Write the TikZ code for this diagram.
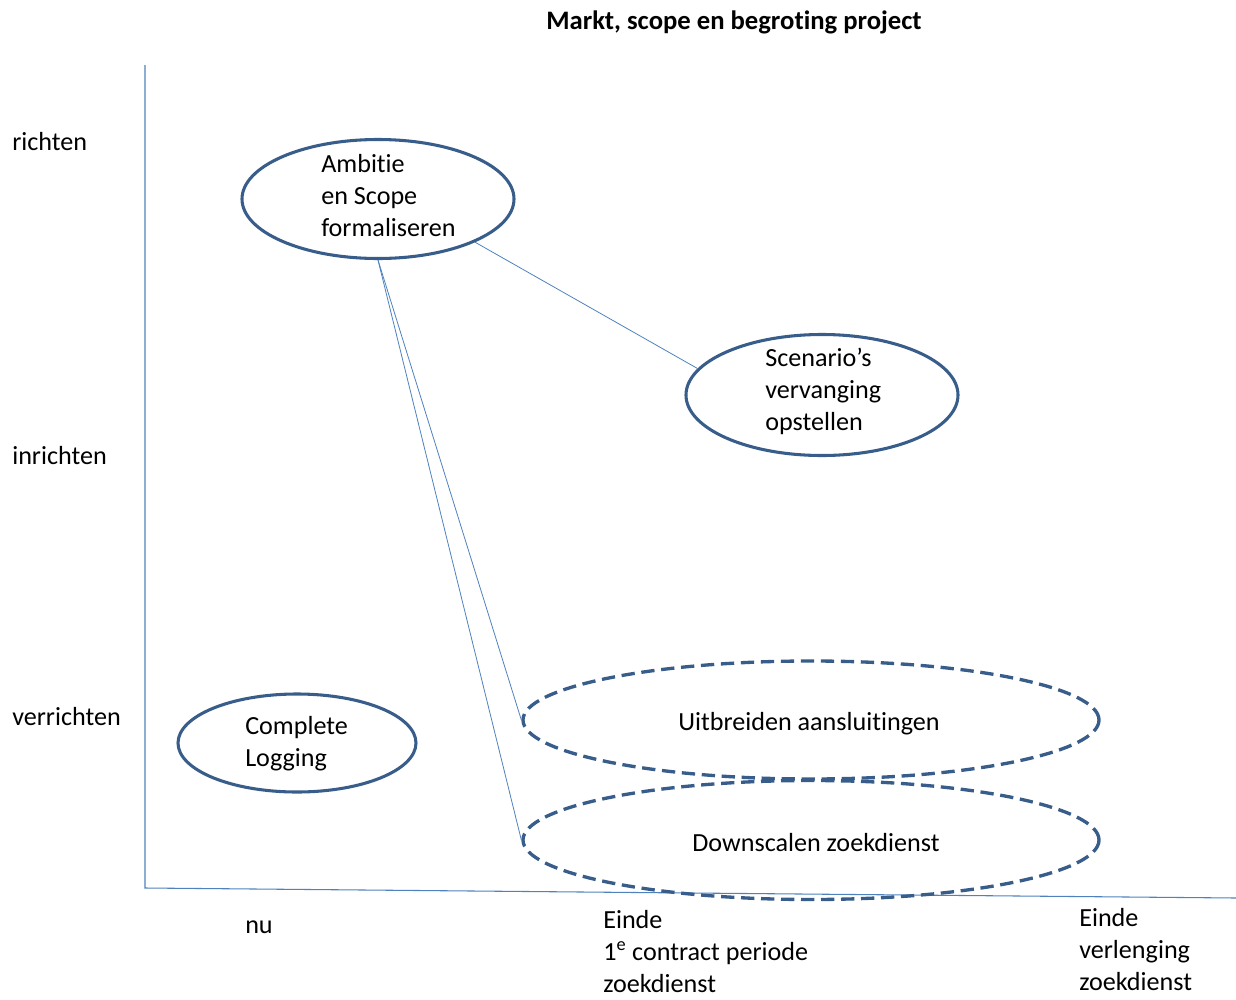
\documentclass[tikz,border=0pt]{standalone}
\usepackage{fontspec}
\setmainfont{Carlito}[Ligatures=NoCommon]
\usetikzlibrary{shapes.geometric}
\definecolor{axisblue}{RGB}{79,129,189}
\definecolor{rimblue}{RGB}{56,93,138}
\begin{document}
\begin{tikzpicture}[x=0.75pt,y=-0.75pt,
  lbl/.style={font=\fontsize{19.6}{24}\selectfont, inner sep=0pt, align=left},
  oval/.style={ellipse, draw=rimblue, line width=2.3pt, inner sep=0pt},
  dashedoval/.style={oval, line width=2.5pt, dash pattern=on 10pt off 5pt},
  axisline/.style={draw=axisblue, line width=0.8pt},
  link/.style={draw=axisblue, line width=0.6pt}]
\useasboundingbox (0,0) rectangle (1236,1000);

% title
\node[font=\fontsize{20}{24}\selectfont\bfseries, inner sep=0pt] (ttl) at (734,22) {Markt, scope en begroting project};

% axes
\coordinate (ytop) at (145,65);
\coordinate (orig) at (145,888);
\coordinate (xend) at (1236,898);
\draw[axisline] (ytop) -- (orig) -- (xend);

% level labels
\node[lbl, anchor=west] (lvl1) at (12,142) {richten};
\node[lbl, anchor=west] (lvl2) at (12,456) {inrichten};
\node[lbl, anchor=west] (lvl3) at (12,717) {verrichten};

% time labels
\node[lbl, anchor=west] (t0) at (245,927) {nu};
\node[lbl, anchor=west] (t1) at (603,952) {Einde\\1\textsuperscript{e} contract periode\\zoekdienst};
\node[lbl, anchor=west] (t2) at (1079,950) {Einde\\verlenging\\zoekdienst};

% activities
\node[oval, minimum width=204pt, minimum height=89.25pt] (amb) at (378,199) {};
\node[oval, minimum width=204pt, minimum height=90.75pt] (scn) at (822,395) {};
\node[oval, minimum width=178.5pt, minimum height=73.5pt] (log) at (297,743) {};
\node[dashedoval, minimum width=432pt, minimum height=88.5pt] (uit) at (811,720) {};
\node[dashedoval, minimum width=432pt, minimum height=89.25pt] (dwn) at (811,840) {};

\node[lbl, anchor=west] (ambt) at (321,196) {Ambitie\\en Scope\\formaliseren};
\node[lbl, anchor=west] (scnt) at (765,391) {Scenario’s\\vervanging\\opstellen};
\node[lbl, anchor=west] (logt) at (245,744) {Complete\\Logging};
\node[lbl] (uitt) at (809,724) {Uitbreiden aansluitingen};
\node[lbl] (dwnt) at (816,843) {Downscalen zoekdienst};

% links
\draw[link] (amb.-24) -- (scn.168);
\draw[link] (amb.south) -- (uit.west);
\draw[link] (amb.south) -- (dwn.west);
\end{tikzpicture}
\end{document}
